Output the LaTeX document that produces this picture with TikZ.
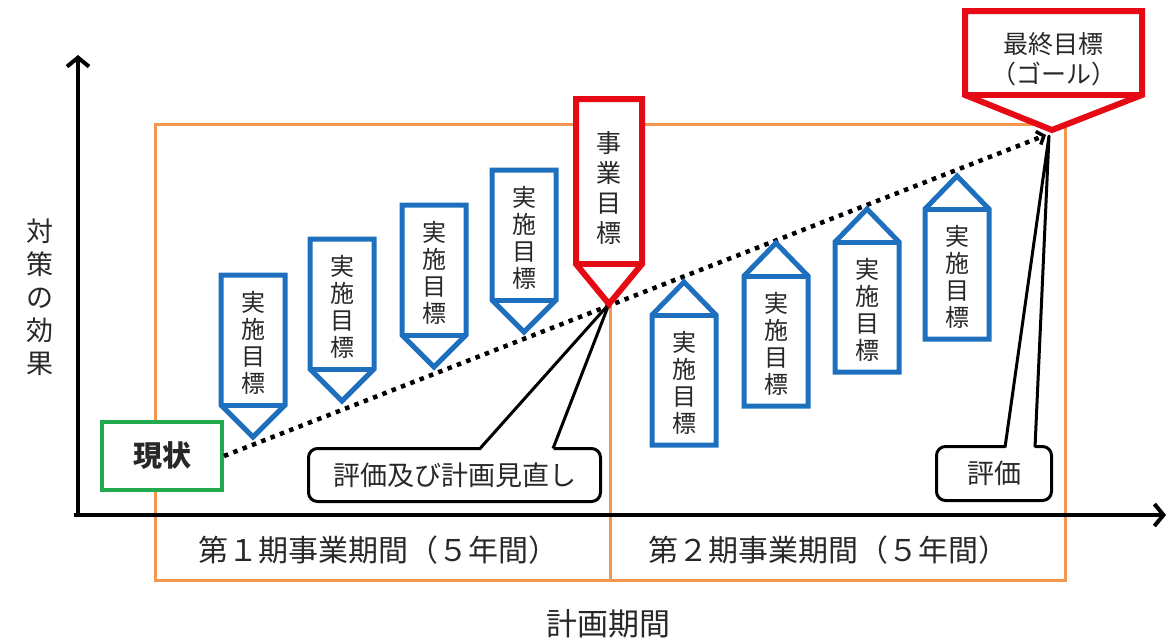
\documentclass[tikz,border=0pt]{standalone}
\usepackage{fontspec}
\setmainfont{Noto Sans CJK JP}
\usetikzlibrary{arrows.meta,calc}
\definecolor{cblue}{RGB}{30,112,190}
\definecolor{cred}{RGB}{230,10,20}
\definecolor{cgreen}{RGB}{34,170,80}
\definecolor{corange}{RGB}{242,150,80}
\definecolor{ctext}{RGB}{40,40,40}
\begin{document}
\begin{tikzpicture}[x=1pt,y=-1pt,
  every node/.style={text=ctext},
  tagtext/.style={inner sep=0pt, align=center, font=\fontsize{24}{27}\selectfont},
  redtext/.style={inner sep=0pt, align=center, font=\fontsize{25}{30}\selectfont},
  tagshape/.style={draw=cblue, fill=white, line width=5pt, line join=miter},
  redshape/.style={tagshape, draw=cred, line width=6pt},
  callout/.style={draw=black, fill=white, line width=3pt, rounded corners=9pt, inner sep=0pt,
    font=\fontsize{27}{30}\selectfont},
  wedge/.style={draw=black, line width=3pt, line join=round},
  axis/.style={line width=4pt, -{Straight Barb[length=9pt,width=22pt,line width=4pt]}},
  period/.style={draw=corange, line width=3pt},
  dotline/.style={line width=4.5pt, dash pattern=on 4.5pt off 5.5pt,
    -{Straight Barb[length=6pt,width=14pt,line width=3.5pt]}},
  label/.style={font=\fontsize{30}{34}\selectfont}
]
\useasboundingbox (0,0) rectangle (1168,641);

% planning period frame
\draw[period] (155,124) rectangle (1065,580);
\coordinate (divtop) at (610,124);
\coordinate (divbot) at (610,580);
\draw[period] (divtop) -- (divbot);

% axes
\coordinate (yo) at (78,517);
\coordinate (ytop) at (78,55);
\coordinate (xo) at (74,515);
\coordinate (xend) at (1166,515);
\draw[axis] (yo) -- (ytop);
\draw[axis] (xo) -- (xend);

% labels
\node[font=\fontsize{27}{33}\selectfont, align=center] (ylab) at (40,297) {対\\策\\の\\効\\果};
\node[label] (p1) at (378,550) {第１期事業期間（５年間）};
\node[label] (p2) at (828,550) {第２期事業期間（５年間）};
\node[font=\fontsize{31}{34}\selectfont] (plan) at (608,624) {計画期間};

% present state
\node[draw=cgreen, fill=white, line width=4pt, minimum width=120pt, minimum height=68pt,
  font=\bfseries\fontsize{29}{32}\selectfont] (gen) at (162,456) {現状};

% key points
\coordinate (jtip) at (609,304);
\coordinate (gtip) at (1046,135);

% dotted trend line
\draw[dotline] (gen.east) -- (gtip);

% callout 1
\node[callout, minimum width=292pt, minimum height=53pt] (c1) at (454.5,475) {評価及び計画見直し};
\coordinate (w1a) at (480,448.5);
\coordinate (w1b) at (553,448.5);
\fill[white] (480,451) -- (jtip) -- (553,451) -- cycle;
\draw[wedge] (w1a) -- (jtip) -- (w1b);

% callout 2
\node[callout, minimum width=115pt, minimum height=54pt] (c2) at (994,473.5) {評価};
\coordinate (w2a) at (1005,447.5);
\coordinate (w2b) at (1035,447.5);
\coordinate (etip) at (1049,136);
\fill[white] (1005,450) -- (etip) -- (1035,450) -- cycle;
\draw[wedge] (w2a) -- (etip) -- (w2b);

% first period targets (pointing down)
\foreach \n/\x/\y in {b1/253/340, b2/342/304, b3/434/270, b4/524/235}{
  \draw[tagshape] (\x-32,\y-65) -- (\x+32,\y-65) -- (\x+32,\y+65) -- (\x,\y+97) -- (\x-32,\y+65) -- cycle;
  \draw[tagshape] (\x-32,\y+65) -- (\x+32,\y+65);
  \node[tagtext] (\n) at (\x,\y+3) {実\\施\\目\\標};
}

% second period targets (pointing up)
\foreach \n/\x/\y in {u1/684/380, u2/776/341, u3/867/307, u4/957/274}{
  \draw[tagshape] (\x-32,\y-65) -- (\x,\y-98) -- (\x+32,\y-65) -- (\x+32,\y+65) -- (\x-32,\y+65) -- cycle;
  \draw[tagshape] (\x-32,\y-65) -- (\x+32,\y-65);
  \node[tagtext] (\n) at (\x,\y+3) {実\\施\\目\\標};
}

% business target
\draw[redshape] (576,99) -- (642,99) -- (642,264) -- (jtip) -- (576,264) -- cycle;
\draw[redshape] (576,264) -- (642,264);
\node[redtext] (jig) at (609,188) {事\\業\\目\\標};

% final goal
\coordinate (goaltip) at (1052,130);
\draw[redshape] (965,11) -- (1142,11) -- (1142,95) -- (goaltip) -- (965,95) -- cycle;
\draw[redshape] (965,95) -- (1142,95);
\node[redtext] (goal) at (1053.5,59) {最終目標\\（ゴール）};
\end{tikzpicture}
\end{document}
